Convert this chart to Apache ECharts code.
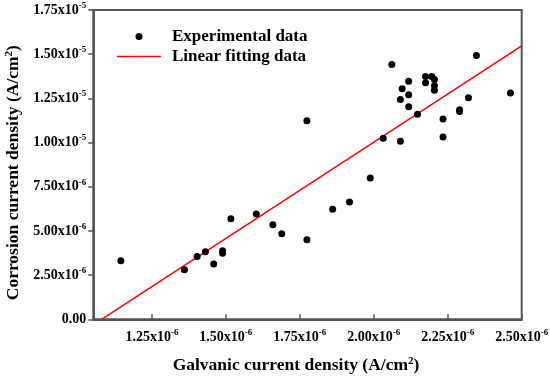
<!DOCTYPE html>
<html>
<head>
<meta charset="utf-8">
<script src="https://cdn.jsdelivr.net/npm/echarts@6/dist/echarts.min.js"></script>
<style>html,body{margin:0;padding:0;background:#fff}#c{width:550px;height:377px}</style>
</head>
<body>
<div id="c"></div>
<script>
// Values in units of 1e-6 A/cm2
var galvanic = [1.145,1.360,1.403,1.431,1.459,1.489,1.489,1.517,1.603,1.659,1.689,1.774,1.774,1.861,1.918,1.988,2.032,2.061,2.090,2.090,2.096,2.118,2.118,2.118,2.148,2.175,2.175,2.196,2.205,2.205,2.205,2.234,2.234,2.290,2.290,2.320,2.347,2.462];
var corrosion = [3.31,2.81,3.56,3.82,3.13,3.88,3.73,5.69,5.96,5.35,4.84,4.50,11.23,6.22,6.63,7.99,10.24,14.41,12.44,10.07,13.04,13.47,12.70,12.02,11.60,13.74,13.38,13.74,13.57,13.22,12.96,11.33,10.31,11.86,11.76,12.53,14.93,12.80];
var fitX = [1.080, 2.500];
var fitY = [0.00, 15.47];
var xTickValues = [1.25, 1.50, 1.75, 2.00, 2.25, 2.50];
var xMin = 1.052, xMax = 2.50;
var yMin = 0, yMax = 17.5, yStep = 2.5;

var expData = galvanic.map(function(x, i){ return [x, corrosion[i]]; });
var fitData = fitX.map(function(x, i){ return [x, fitY[i]]; });

var FONT = '"Liberation Serif", "Times New Roman", serif';
function sci(v){
  if (Math.abs(v) < 1e-9) return '{b|0.00}';
  var exp = -6, m = v;
  while (m >= 10) { m /= 10; exp += 1; }
  return '{b|' + m.toFixed(2) + 'x10}{s|' + exp + '}';
}
var rich = {
  b: {fontFamily: FONT, fontWeight: 'bold', fontSize: 14, color: '#000'},
  s: {fontFamily: FONT, fontWeight: 'bold', fontSize: 9, color: '#000', padding: [0,0,9,0]}
};
var nameRich = {sup: {fontFamily: FONT, fontWeight: 'bold', fontSize: 11, color: '#000', padding: [0,0,9,0]}};

var chart = echarts.init(document.getElementById('c'), null, {renderer: 'canvas'});
chart.setOption({
  animation: false,
  backgroundColor: '#fff',
  grid: {left: 93.3, right: 28.3, top: 10, bottom: 57.7, containLabel: false, outerBoundsMode: 'none',
    show: true, borderColor: '#555', borderWidth: 2, backgroundColor: 'transparent'},
  legend: {
    orient: 'vertical', left: 117, top: 28, padding: 0, itemWidth: 44, itemHeight: 7, itemGap: 3,
    symbolKeepAspect: true,
    textStyle: {fontFamily: FONT, fontWeight: 'bold', fontSize: 17, color: '#000', padding: [0,0,0,6], lineHeight: 17},
    data: [
      {name: 'Experimental data', icon: 'circle', itemStyle: {color: '#000', opacity: 1}},
      {name: 'Linear fitting data', icon: 'path://M0,0H88V3H0Z', itemStyle: {color: '#ff0000'}}
    ]
  },
  xAxis: {
    type: 'value', min: xMin, max: xMax,
    name: 'Galvanic current density (A/cm{sup|2})',
    nameLocation: 'middle', nameGap: 36,
    nameTextStyle: {fontFamily: FONT, fontWeight: 'bold', fontSize: 17.5, color: '#000', padding: [0,23,0,0], rich: nameRich},
    axisLine: {show: true, lineStyle: {color: '#555', width: 2}},
    axisTick: {show: true, inside: true, length: 5, customValues: xTickValues, lineStyle: {color: '#555', width: 1.5}},
    axisLabel: {customValues: xTickValues, margin: 9, formatter: function(v){ return sci(v); }, rich: rich},
    splitLine: {show: false}
  },
  yAxis: {
    type: 'value', min: yMin, max: yMax, interval: yStep,
    name: 'Corrosion current density (A/cm{sup|2})',
    nameLocation: 'middle', nameGap: 69,
    nameTextStyle: {fontFamily: FONT, fontWeight: 'bold', fontSize: 17.5, color: '#000', padding: [0,16,0,0], rich: nameRich},
    axisLine: {show: true, lineStyle: {color: '#555', width: 2}},
    axisTick: {show: true, inside: false, length: 5, lineStyle: {color: '#555', width: 1.5}},
    axisLabel: {margin: 7, formatter: function(v){ return sci(v); }, rich: rich},
    splitLine: {show: false}
  },
  series: [
    {name: 'Experimental data', type: 'scatter', data: expData, symbol: 'circle', symbolSize: 7, itemStyle: {color: '#000', opacity: 1}, z: 3},
    {name: 'Linear fitting data', type: 'line', data: fitData, symbol: 'none', showSymbol: false, lineStyle: {color: '#ff0000', width: 1.5}, itemStyle: {color: '#ff0000'}, z: 2}
  ]
});
</script>
</body>
</html>
